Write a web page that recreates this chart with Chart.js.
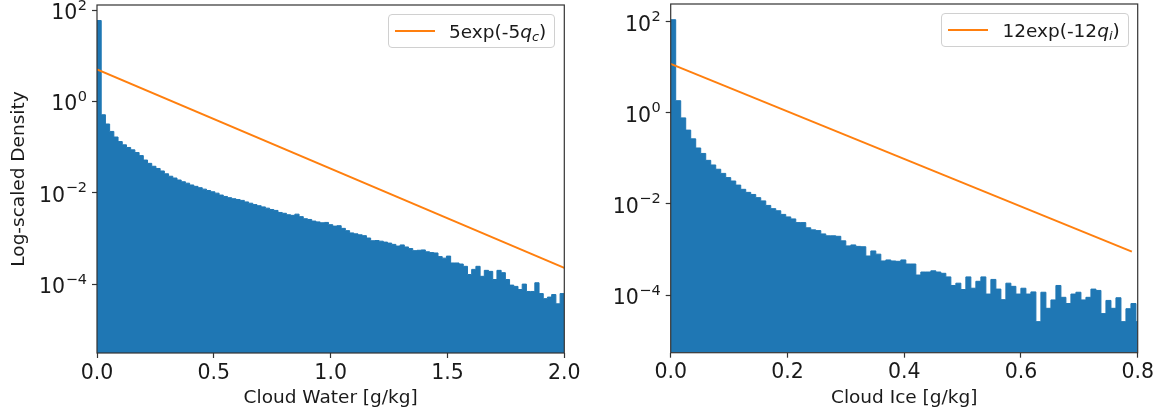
<!DOCTYPE html>
<html>
<head>
<meta charset="utf-8">
<script src="https://cdn.jsdelivr.net/npm/chart.js@4/dist/chart.umd.min.js"></script>
<style>
  body { margin: 0; background: #fff; font-family: 'DejaVu Sans', sans-serif; }
  #wrap { position: relative; width: 1159px; height: 415px; }
  canvas { position: absolute; top: 0; }
  .legend { position: absolute; height: 34px; box-sizing: border-box; border: 1px solid #d0d0d0;
            border-radius: 4px; background: rgba(255,255,255,0.8); display: flex; align-items: center;
            padding: 0 8px 0 6px; font-size: 18.5px; color: #1a1a1a; white-space: nowrap; }
  .legend .swatch { display: inline-block; width: 40px; height: 2px; margin-right: 14px; }
  .legend sub { font-size: 0.7em; vertical-align: -0.25em; line-height: 0; }
</style>
</head>
<body>
<div id="wrap">
  <canvas id="waterChart" width="580" height="415" style="left:0px"></canvas>
  <canvas id="iceChart" width="579" height="415" style="left:580px"></canvas>
  <div class="legend" id="waterLegend"></div>
  <div class="legend" id="iceLegend"></div>
</div>
<script>
/*---------------------------------------------------------------------*/
/*------------------------------ DATA ---------------------------------*/

// Cloud water histogram: density per bin, bins start at 0
var waterBinWidth = 2.0 / 111;
var waterDensity = [
  59, 0.51, 0.32, 0.22, 0.166, 0.132, 0.112, 0.098, 0.087, 0.076,
  0.065, 0.052, 0.044, 0.038, 0.034, 0.030, 0.026, 0.023, 0.021, 0.019,
  0.0174, 0.0162, 0.0148, 0.0138, 0.0129, 0.0120, 0.0112, 0.0105, 0.0098, 0.0089,
  0.0083, 0.0078, 0.0074, 0.0071, 0.0068, 0.0063, 0.0059, 0.0055, 0.0052, 0.0049,
  0.0046, 0.0043, 0.0041, 0.0037, 0.00355, 0.0033, 0.0032, 0.0034, 0.0030, 0.0027,
  0.0026, 0.0024, 0.0023, 0.0022, 0.00224, 0.0020, 0.00186, 0.0019, 0.00166, 0.00148,
  0.00132, 0.00126, 0.00120, 0.00115, 0.00102, 0.00089, 0.00090, 0.00087, 0.00083, 0.00079,
  0.00074, 0.00068, 0.00072, 0.00065, 0.00060, 0.00054, 0.00055, 0.00056, 0.00051, 0.00049,
  0.00048, 0.00040, 0.00037, 0.00041, 0.00029, 0.00029, 0.000275, 0.000245, 0.000162, 0.00021,
  0.000245, 0.000148, 0.00020, 0.00019, 0.000126, 0.00020, 0.000178, 0.000126, 0.000095, 0.000089,
  0.000076, 0.00010, 0.000069, 0.000069, 0.000107, 0.000062, 0.000048, 0.000052, 0.000059, 0.000037,
  0.000062
];
// Cloud ice histogram
var iceBinWidth = 0.00857;
var iceDensity = [
  112, 1.86, 0.78, 0.42, 0.27, 0.17, 0.129, 0.091, 0.072, 0.058,
  0.047, 0.038, 0.032, 0.026, 0.021, 0.018, 0.0162, 0.0138, 0.0117, 0.0093,
  0.0079, 0.0071, 0.0059, 0.0052, 0.0047, 0.0039, 0.0039, 0.0030, 0.0027, 0.0026,
  0.0022, 0.0020, 0.0020, 0.00195, 0.00155, 0.0012, 0.00126, 0.00117, 0.00115, 0.00072,
  0.00093, 0.00079, 0.00056, 0.00059, 0.00056, 0.00055, 0.00059, 0.00048, 0.00048, 0.000275,
  0.00032, 0.00032, 0.00034, 0.00032, 0.00030, 0.00025, 0.000162, 0.000182, 0.000132, 0.00025,
  0.000141, 0.00020, 0.00025, 0.000105, 0.00022, 0.000135, 0.000079, 0.000182, 0.000155, 0.000105,
  0.000141, 0.000105, 0.000117, 0.000026, 0.000115, 0.000051, 0.000078, 0.000162, 0.000089, 0.000065,
  0.000105, 0.000115, 0.000078, 0.000089, 0.000135, 0.000126, 0.000039, 0.000076, 0.000051, 0.000087,
  0.000026, 0.000050, 0.000065, 0.000026
];

// Exponential reference lines (straight on log axis, two end points)
var waterFitX = [0, 2.0];
var waterFitY = [5, 2.27e-4];
var iceFitX = [0, 0.79];
var iceFitY = [12, 9.0e-4];

// Ticks (y labels are 10 with a superscript exponent)
var yTickValues = [1e-4, 1e-2, 1, 1e2];
var yTickExponents = ['\u22124', '\u22122', '0', '2'];
var waterXTicks = [0, 0.5, 1.0, 1.5, 2.0];
var waterXLabels = ['0.0', '0.5', '1.0', '1.5', '2.0'];
var iceXTicks = [0, 0.2, 0.4, 0.6, 0.8];
var iceXLabels = ['0.0', '0.2', '0.4', '0.6', '0.8'];

/*---------------------------------------------------------------------*/
/*----------------------------- HELPERS -------------------------------*/

var BLUE = '#1f77b4';
var ORANGE = '#ff7f0e';
var INK = '#1a1a1a';
var SPINE = '#333333';

// histogram as a filled step line: one point per bin edge
function histPoints(values, binWidth) {
  var pts = values.map(function(v, i) { return {x: i * binWidth, y: v}; });
  pts.push({x: values.length * binWidth, y: values[values.length - 1]});
  return pts;
}

function pairPoints(xs, ys) {
  return xs.map(function(x, i) { return {x: x, y: ys[i]}; });
}

// draw the 4 spines on top of the data
var framePlugin = {
  id: 'frame',
  afterDatasetsDraw: function(chart) {
    var a = chart.chartArea, ctx = chart.ctx;
    ctx.save();
    ctx.strokeStyle = SPINE;
    ctx.lineWidth = 1.2;
    ctx.strokeRect(a.left, a.top, a.right - a.left, a.bottom - a.top);
    ctx.restore();
  }
};

// log tick labels written as 10 + raised exponent, placed on the y scale
var logLabelPlugin = {
  id: 'logLabels',
  afterDraw: function(chart) {
    var scale = chart.scales.y, ctx = chart.ctx;
    var right = chart.chartArea.left - 10;
    ctx.save();
    ctx.fillStyle = INK;
    ctx.textBaseline = 'alphabetic';
    yTickValues.forEach(function(v, i) {
      var py = scale.getPixelForValue(v) + 9;
      ctx.font = '14.5px "DejaVu Sans"';
      var expW = ctx.measureText(yTickExponents[i]).width;
      ctx.textAlign = 'left';
      ctx.fillText(yTickExponents[i], right - expW, py - 9.5);
      ctx.font = '20.5px "DejaVu Sans"';
      ctx.textAlign = 'right';
      ctx.fillText('10', right - expW - 0.5, py);
    });
    ctx.restore();
  }
};

// matplotlib style legend in html ($q_c$ -> italic q with subscript)
function buildLegend(chart, legendId, offsetLeft) {
  var box = document.getElementById(legendId);
  var html = '';
  chart.data.datasets.forEach(function(ds) {
    if (!ds.label) return;
    var text = ds.label.replace(/\$(\w)_(\w)\$/g, '<i>$1</i><sub><i>$2</i></sub>');
    html += '<span class="swatch" style="background:' + ds.borderColor + '"></span><span>' + text + '</span>';
  });
  box.innerHTML = html;
  var a = chart.chartArea;
  box.style.top = (a.top + 9.3) + 'px';
  box.style.left = (offsetLeft + a.right - 9.3 - box.offsetWidth) + 'px';
}

function makeChart(canvasId, cfg) {
  var ctx = document.getElementById(canvasId).getContext('2d');
  return new Chart(ctx, {
    type: 'line',
    data: {
      datasets: [{
        label: cfg.fitLabel,
        data: pairPoints(cfg.fitX, cfg.fitY),
        borderColor: ORANGE,
        borderWidth: 2,
        pointRadius: 0,
        fill: false,
      },
      {
        data: histPoints(cfg.density, cfg.binWidth),
        stepped: 'before',
        borderColor: BLUE,
        borderWidth: 1,
        backgroundColor: BLUE,
        pointRadius: 0,
        fill: 'start',
      },
      ],
    },
    options: {
      responsive: false,
      animation: false,
      events: [],
      layout: { padding: cfg.padding },
      plugins: { legend: { display: false }, tooltip: { enabled: false } },
      scales: {
        x: {
          type: 'linear',
          min: cfg.xMin,
          max: cfg.xMax,
          afterBuildTicks: function(s) { s.ticks = cfg.xTicks.map(function(v) { return {value: v}; }); },
          ticks: {
            autoSkip: false, maxRotation: 0, padding: 3, color: INK,
            font: { family: 'DejaVu Sans', size: 20.5 },
            callback: function(v, i) { return cfg.xLabels[i]; },
          },
          grid: { drawOnChartArea: false, drawTicks: true, tickLength: 5, tickWidth: 1.2, tickColor: SPINE },
          border: { display: false },
          title: {
            display: true, text: cfg.xTitle, color: INK,
            font: { family: 'DejaVu Sans', size: 18.5 }, padding: { top: 0, bottom: 6 },
          },
          afterFit: function(s) { s.height = cfg.xHeight; s.paddingLeft = 0; s.paddingRight = 0; },
        },
        y: {
          type: 'logarithmic',
          min: cfg.yMin,
          max: cfg.yMax,
          afterBuildTicks: function(s) { s.ticks = yTickValues.map(function(v) { return {value: v}; }); },
          ticks: { display: false, autoSkip: false },
          grid: { drawOnChartArea: false, drawTicks: true, tickLength: 5, tickWidth: 1.2, tickColor: SPINE },
          border: { display: false },
          title: {
            display: !!cfg.yTitle, text: cfg.yTitle, color: INK,
            font: { family: 'DejaVu Sans', size: 18.5 }, padding: { top: 8, bottom: 0 },
          },
          afterFit: function(s) { s.width = cfg.yWidth; s.paddingTop = 0; s.paddingBottom = 0; },
        },
      },
    },
    plugins: [framePlugin, logLabelPlugin],
  });
}

/*---------------------------------------------------------------------*/
/*------------------------------ CHARTS -------------------------------*/

var waterChart = makeChart('waterChart', {
  density: waterDensity, binWidth: waterBinWidth,
  fitX: waterFitX, fitY: waterFitY, fitLabel: '5exp(-5$q_c$)',
  xMin: 0, xMax: 2.0, xTicks: waterXTicks, xLabels: waterXLabels,
  yMin: 3.1e-6, yMax: 129,
  xTitle: 'Cloud Water [g/kg]', yTitle: 'Log-scaled Density',
  yWidth: 97, xHeight: 62,
  padding: { left: 0, top: 5, right: 15.7, bottom: 0 },
});

var iceChart = makeChart('iceChart', {
  density: iceDensity, binWidth: iceBinWidth,
  fitX: iceFitX, fitY: iceFitY, fitLabel: '12exp(-12$q_i$)',
  xMin: 0, xMax: 0.8, xTicks: iceXTicks, xLabels: iceXLabels,
  yMin: 5.4e-6, yMax: 248,
  xTitle: 'Cloud Ice [g/kg]', yTitle: '',
  yWidth: 90.7, xHeight: 62.3,
  padding: { left: 0, top: 4, right: 21.3, bottom: 0 },
});

buildLegend(waterChart, 'waterLegend', 0);
buildLegend(iceChart, 'iceLegend', 580);
</script>
</body>
</html>
